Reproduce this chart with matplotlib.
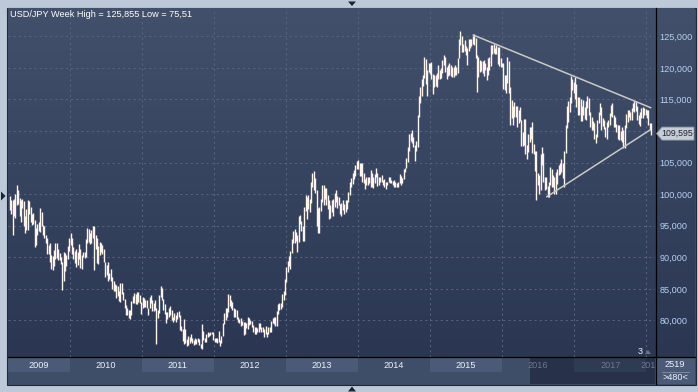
#!/usr/bin/env python3
"""USD/JPY weekly high/low bars, Mar 2009 - Jan 2018, dark terminal style."""

import numpy as np
import pandas as pd
import matplotlib
matplotlib.use('Agg')
import matplotlib.pyplot as plt
import matplotlib.transforms as mtransforms
from matplotlib.patches import Rectangle, Polygon

# --- weekly data (week starting Mon) ---------------------------------------
FIRST_WEEK = '2009-03-02'

hi_2009 = [99.7, 99.0, 99.0, 99.3, 100.0, 101.4, 100.7, 99.4, 99.0, 99.3, 98.9, 96.5, 97.6, 99.0, 98.9,
           98.0, 96.9, 97.0, 95.9, 94.6, 95.3, 95.6, 97.8, 97.2, 95.1, 95.0, 93.5, 93.1, 92.0, 92.2,
           90.4, 90.2, 91.2, 92.3, 92.3, 91.3, 90.7, 90.0, 89.3, 90.8, 90.7, 90.4, 91.8, 93.0]
lo_2009 = [97.5, 96.9, 93.5, 96.5, 96.3, 98.3, 98.5, 96.6, 95.6, 97.8, 94.9, 93.9, 94.4, 94.4, 96.8,
           95.6, 95.1, 95.2, 91.7, 92.0, 93.5, 94.2, 94.0, 94.9, 93.5, 93.0, 92.2, 90.6, 90.5, 89.2,
           88.2, 88.0, 88.6, 89.8, 89.9, 89.6, 89.6, 88.9, 84.8, 86.2, 87.9, 88.6, 89.7, 91.0]

hi_2010 = [93.8, 93.1, 91.7, 91.0, 91.3, 90.8, 92.1, 91.3, 90.4, 90.8, 90.9, 92.9, 94.7, 94.5, 93.8,
           94.3, 94.9, 94.9, 93.6, 93.1, 91.8, 92.4, 92.2, 91.9, 91.3, 89.2, 88.8, 89.2, 87.5, 88.1,
           86.9, 86.3, 85.8, 85.6, 85.4, 84.6, 85.9, 86.0, 84.5, 83.4, 82.4, 81.9, 81.7, 81.6, 83.1,
           83.9, 84.4, 84.2, 84.5, 84.5, 84.1, 83.0]
lo_2010 = [91.9, 90.5, 89.7, 89.1, 88.5, 88.8, 89.7, 88.3, 88.1, 90.0, 89.9, 90.0, 92.3, 92.5, 92.1,
           92.2, 93.1, 88.0, 91.3, 89.1, 88.9, 90.4, 90.9, 90.6, 89.2, 86.9, 87.2, 86.3, 86.5, 86.3,
           85.0, 84.7, 84.7, 83.6, 83.9, 83.1, 82.9, 84.2, 83.2, 81.9, 80.9, 80.9, 80.4, 80.2, 80.9,
           82.7, 82.8, 82.6, 82.6, 83.0, 82.8, 81.1]

hi_2011 = [83.7, 83.6, 83.2, 83.2, 82.0, 83.7, 84.0, 83.2, 82.8, 83.3, 82.0, 81.6, 84.0, 85.5, 85.1,
           83.4, 82.6, 81.3, 81.3, 82.0, 82.3, 81.6, 80.6, 81.2, 80.9, 81.4, 81.5, 80.9, 79.2, 78.6,
           80.2, 78.6, 77.0, 77.5, 77.4, 77.8, 77.2, 76.9, 77.3, 77.1, 77.2, 77.1, 76.3, 79.5, 78.3,
           77.2, 77.9, 78.2, 78.0, 78.2, 78.2, 78.1]
lo_2011 = [82.0, 82.1, 82.1, 81.9, 80.9, 81.9, 82.8, 81.5, 81.5, 81.6, 76.3, 80.4, 81.2, 83.7, 83.2,
           81.6, 81.0, 79.6, 80.3, 80.5, 80.8, 80.0, 79.7, 80.0, 79.7, 80.2, 80.5, 78.5, 78.3, 76.7,
           76.2, 76.5, 75.9, 76.1, 76.5, 76.8, 76.5, 76.1, 76.3, 76.3, 76.6, 76.1, 75.7, 75.51, 76.9,
           76.6, 76.6, 77.4, 77.6, 77.7, 77.8, 76.9]

hi_2012 = [77.2, 77.2, 77.3, 78.3, 76.9, 77.6, 79.6, 81.2, 81.9, 82.0, 84.2, 84.0, 83.3, 83.0, 82.0,
           81.8, 81.7, 80.5, 80.2, 80.4, 79.9, 79.7, 79.7, 79.6, 80.6, 80.4, 80.1, 79.9, 79.3, 78.9,
           78.9, 78.8, 79.6, 79.6, 78.9, 78.9, 78.6, 79.2, 78.1, 78.9, 78.9, 79.9, 80.4, 80.6, 80.5,
           81.5, 82.6, 82.8, 82.8, 84.2, 84.6, 86.6, 88.4]
lo_2012 = [76.6, 76.6, 76.5, 76.6, 76.0, 76.5, 77.5, 79.5, 80.0, 80.6, 81.4, 82.3, 81.9, 81.6, 80.6,
           80.6, 80.2, 79.8, 79.6, 79.2, 79.3, 77.7, 77.9, 78.8, 78.6, 79.3, 79.5, 78.9, 78.2, 77.9,
           77.9, 78.1, 78.2, 78.6, 78.2, 78.1, 77.4, 77.8, 77.4, 77.9, 78.1, 78.2, 79.6, 79.4, 79.1,
           79.1, 81.0, 81.7, 81.8, 82.2, 83.2, 84.0, 86.1]

hi_2013 = [89.4, 90.2, 91.0, 92.9, 94.1, 94.5, 94.0, 93.5, 96.6, 96.7, 95.7, 94.9, 97.9, 99.9, 99.5,
           99.9, 99.2, 101.9, 103.3, 103.7, 102.5, 100.7, 97.8, 98.0, 99.2, 101.5, 101.5, 101.0, 100.9,
           99.9, 99.1, 98.3, 99.1, 99.2, 100.2, 100.6, 99.7, 99.6, 98.5, 98.6, 99.0, 98.4, 99.0, 99.1,
           100.4, 101.9, 102.6, 103.4, 103.9, 104.6, 105.2, 105.4]
lo_2013 = [87.6, 88.6, 88.1, 90.7, 92.3, 92.2, 92.6, 90.9, 92.5, 95.2, 94.2, 92.6, 92.6, 97.3, 96.0,
           97.7, 97.2, 98.6, 101.2, 100.7, 100.2, 94.9, 93.8, 93.9, 97.3, 98.8, 98.3, 99.2, 98.3, 97.6,
           96.1, 96.2, 97.2, 96.6, 97.9, 98.8, 97.8, 98.3, 96.9, 96.6, 97.5, 96.9, 97.2, 97.6, 98.8,
           99.9, 101.2, 101.6, 102.4, 102.9, 104.0, 104.0]

hi_2014 = [105.0, 104.9, 104.9, 103.4, 102.4, 102.8, 102.7, 102.8, 103.8, 103.4, 102.7, 103.2, 104.1,
           103.4, 102.7, 102.8, 103.0, 102.3, 102.4, 101.9, 102.0, 102.8, 102.8, 102.3, 102.1, 102.2,
           102.0, 101.8, 102.0, 103.2, 102.9, 102.6, 104.0, 104.2, 105.7, 107.4, 109.5, 109.7, 110.1,
           109.0, 107.8, 108.4, 112.5, 115.6, 117.0, 118.3, 118.9, 121.8, 121.4, 119.6, 120.8, 120.7]
lo_2014 = [102.9, 102.9, 102.0, 101.8, 100.8, 101.4, 101.5, 101.7, 101.2, 101.2, 101.0, 101.7, 102.8,
           101.3, 101.4, 102.0, 101.9, 101.4, 101.1, 100.8, 101.4, 101.9, 101.8, 101.7, 101.4, 101.2,
           101.1, 101.1, 101.2, 101.8, 101.5, 101.8, 102.4, 103.5, 104.1, 105.1, 106.9, 108.4, 108.1,
           107.5, 105.2, 106.9, 107.5, 112.3, 114.5, 115.5, 117.2, 118.4, 117.5, 115.6, 119.4, 119.1]

hi_2015 = [121.0, 119.0, 118.9, 118.9, 119.2, 120.5, 119.7, 120.0, 121.3, 122.0, 121.7, 120.1, 120.4,
           120.8, 120.4, 120.1, 120.1, 120.5, 120.2, 121.5, 124.5, 125.86, 125.0, 123.8, 124.4, 123.4,
           123.1, 124.5, 124.6, 124.6, 125.1, 125.3, 124.8, 122.1, 121.8, 121.3, 121.1, 121.1, 121.3,
           120.7, 120.2, 121.5, 121.7, 123.6, 123.6, 123.8, 123.2, 123.7, 123.3, 123.3, 121.5, 120.7]
lo_2015 = [118.2, 115.9, 116.9, 117.2, 116.9, 118.3, 118.2, 118.4, 119.2, 120.5, 119.3, 118.3, 118.7,
           118.8, 118.7, 118.5, 118.6, 118.9, 118.9, 119.2, 121.5, 123.7, 122.5, 122.5, 122.7, 122.1,
           120.4, 122.6, 123.2, 123.4, 123.8, 123.7, 121.5, 116.2, 118.6, 119.4, 119.5, 119.2, 118.7,
           119.7, 118.1, 118.9, 119.6, 120.3, 122.2, 122.3, 122.2, 122.2, 120.6, 120.3, 120.1, 120.1]

hi_2016 = [120.7, 118.8, 118.9, 121.7, 121.1, 117.0, 114.9, 114.0, 114.6, 114.0, 114.0, 113.3, 113.8,
           111.8, 109.8, 111.9, 111.9, 107.8, 109.6, 110.6, 110.6, 111.4, 107.9, 106.9, 106.8, 103.3,
           103.0, 106.3, 107.5, 106.5, 102.8, 102.7, 101.3, 102.0, 104.3, 104.0, 103.0, 102.8, 103.5,
           104.0, 104.6, 104.9, 105.5, 105.0, 106.9, 111.0, 113.9, 114.8, 115.4, 118.7, 118.3, 117.8]
lo_2016 = [116.7, 116.5, 116.0, 117.6, 116.0, 111.0, 112.0, 111.0, 112.2, 112.2, 110.7, 111.3, 111.6,
           107.7, 107.6, 107.8, 106.3, 105.5, 106.7, 108.3, 108.7, 106.5, 106.3, 103.6, 99.0, 101.5,
           100.0, 100.7, 104.6, 101.9, 100.7, 100.8, 99.55, 99.6, 101.5, 101.2, 101.2, 100.1, 100.1,
           101.6, 103.0, 103.2, 103.5, 102.5, 101.2, 106.5, 110.5, 111.4, 113.0, 114.4, 116.5, 116.0]

hi_2017 = [118.6, 117.5, 115.4, 115.4, 115.1, 113.9, 114.95, 113.8, 114.7, 115.5, 115.2, 113.0, 112.2,
           111.6, 111.2, 109.5, 111.8, 113.0, 114.4, 113.8, 112.1, 111.7, 110.6, 111.4, 111.8, 112.9,
           114.2, 114.5, 112.6, 112.2, 111.1, 110.9, 110.9, 110.0, 110.7, 110.2, 111.0, 112.7, 113.3,
           113.4, 113.0, 113.6, 114.4, 114.7, 114.7, 113.9, 112.5, 113.0, 113.6, 113.75, 113.6, 113.5]
lo_2017 = [115.1, 113.8, 112.6, 112.5, 111.6, 111.6, 112.6, 111.9, 111.7, 113.6, 112.6, 110.6, 110.1,
           110.1, 108.7, 108.1, 109.1, 111.3, 112.6, 110.2, 110.8, 110.4, 109.1, 108.8, 110.6, 110.9,
           112.4, 112.2, 110.6, 110.6, 109.9, 108.7, 108.6, 108.6, 108.3, 107.3, 107.3, 110.5, 111.5,
           112.2, 111.7, 111.7, 113.2, 113.0, 113.1, 111.8, 111.1, 110.8, 112.0, 112.1, 112.6, 112.5]

hi_2018 = [113.4, 113.4, 111.3, 111.2]
lo_2018 = [112.1, 110.9, 110.2, 109.4]

LAST_PRICE = 109.595
TITLE = 'USD/JPY Week High = 125,855 Low = 75,51'

# triangle trend lines (decimal year, price)
upper_line_x = [2015.60, 2018.06]
upper_line_y = [125.2, 113.7]
lower_line_x = [2016.62, 2018.05]
lower_line_y = [99.6, 110.16]

price_ticks = [80, 85, 90, 95, 100, 105, 110, 115, 120, 125]
# 110,000 sits under the last-price tag, so it is not shown
price_labels = ['80,000', '85,000', '90,000', '95,000', '100,000', '105,000', '',
                '115,000', '120,000', '125,000']
years = [2009, 2010, 2011, 2012, 2013, 2014, 2015, 2016, 2017, 2018]
SELECTION_START = 2016.39   # darker "selected" range in the time strip

# --- colours ----------------------------------------------------------------
FRAME = '#BDC9D9'
BG_TOP = np.array([0x42, 0x50, 0x6B]) / 255
BG_BOT = np.array([0x2B, 0x37, 0x52]) / 255
GRID = '#56647D'
BAR = '#FFF3EE'
TRI = '#C9C9C9'
STRIP = '#3E4D68'
BOX = '#4B5B77'
SEL = '#27324A'
SEL_BOX = '#2F3B53'
TICK_TXT = '#B5D0F0'
YEAR_TXT = '#EEF2FA'
YEAR_DIM = '#6D788C'
FONT = 'Liberation Sans'
FS = 6.6

W, H = 698, 392


def main():
    highs = np.array(hi_2009 + hi_2010 + hi_2011 + hi_2012 + hi_2013 + hi_2014
                     + hi_2015 + hi_2016 + hi_2017 + hi_2018)
    lows = np.array(lo_2009 + lo_2010 + lo_2011 + lo_2012 + lo_2013 + lo_2014
                    + lo_2015 + lo_2016 + lo_2017 + lo_2018)
    weeks = pd.date_range(FIRST_WEEK, periods=len(highs), freq='7D') + pd.Timedelta(days=3)
    xs = weeks.year + (weeks.dayofyear - 1) / 365.25

    plt.rcParams['font.family'] = [FONT, 'DejaVu Sans']

    fig = plt.figure(figsize=(W / 100, H / 100), dpi=100, facecolor=FRAME)

    # background layer in pixel coordinates
    bg = fig.add_axes([0, 0, 1, 1], zorder=0)
    bg.set_xlim(0, W)
    bg.set_ylim(H, 0)
    bg.axis('off')

    bg.add_patch(Rectangle((7, 7.5), 688.5, 377, facecolor=STRIP, edgecolor='#222A3A', lw=0.8))
    grad = np.linspace(0, 1, 256)[:, None, None]
    img = BG_TOP * (1 - grad) + BG_BOT * grad
    bg.imshow(img, extent=(8, 695, 357, 8), aspect='auto', interpolation='bilinear', zorder=1)

    # main chart axes
    ax = fig.add_axes([8 / W, (H - 357) / H, 647 / W, 349 / H], zorder=2)
    ax.set_facecolor('none')
    ax.set_xlim(2009.147, 2018.12)
    ax.set_ylim(74.22, 129.48)
    for s in ax.spines.values():
        s.set_visible(False)

    ax.set_xticks(years[1:])
    ax.set_yticks(price_ticks)
    ax.set_yticklabels(price_labels)
    ax.yaxis.tick_right()
    ax.tick_params(axis='y', length=0, pad=3, labelsize=FS, labelcolor=TICK_TXT)
    ax.tick_params(axis='x', length=0, labelbottom=False)
    ax.grid(True, color=GRID, linestyle=(0, (2, 3)), linewidth=0.75)

    ax.vlines(xs, lows, highs, color=BAR, linewidth=1.0, zorder=3)
    ax.plot(upper_line_x, upper_line_y, color=TRI, lw=1.1, zorder=4)
    ax.plot(lower_line_x, lower_line_y, color=TRI, lw=1.1, zorder=4)

    # time strip below the chart
    xt = mtransforms.blended_transform_factory(ax.transData, bg.transData)
    x0, x1 = ax.get_xlim()
    bg.add_patch(Rectangle((SELECTION_START, 357), x1 - SELECTION_START, 27,
                           transform=xt, facecolor=SEL, edgecolor='none', zorder=2))
    clip = mtransforms.Bbox([[8, H - 384], [655, H - 357]])
    for i, yr in enumerate(years):
        a, b = max(yr, x0), min(yr + 1, x1)
        in_sel = (a + b) / 2 >= SELECTION_START
        if i % 2 == 0:
            bg.add_patch(Rectangle((a, 358), b - a, 14, transform=xt,
                                   facecolor=SEL_BOX if in_sel else BOX,
                                   edgecolor='none', zorder=2.5))
        t = bg.text((a + b) / 2, 365.5, str(yr), transform=xt, ha='center', va='center',
                    fontsize=FS, color=YEAR_DIM if in_sel else YEAR_TXT, zorder=3)
        t.set_clip_on(True)
        t.set_clip_box(clip)

    # axis frame lines
    bg.plot([655.5, 655.5], [8, 384], color='black', lw=0.9, zorder=4)
    bg.plot([8, 695], [357, 357], color='black', lw=0.9, zorder=4)

    # corner box with bar counts
    bg.add_patch(Rectangle((656, 358), 39, 26, facecolor=BOX, edgecolor='none', zorder=3))
    bg.text(675, 364.5, '2519', ha='center', va='center', fontsize=FS, color=YEAR_TXT, zorder=4)
    bg.plot([662, 689], [371.5, 371.5], color='#8391A8', lw=0.6, zorder=4)
    bg.text(675, 378, '>480<', ha='center', va='center', fontsize=FS, color=YEAR_TXT, zorder=4)

    # title and small markers
    top = fig.add_axes([0, 0, 1, 1], zorder=3)
    top.set_xlim(0, W)
    top.set_ylim(H, 0)
    top.axis('off')
    top.text(10, 14.5, TITLE, ha='left', va='center', fontsize=FS, color='white')
    top.text(640, 351, '3', ha='center', va='center', fontsize=FS, color=YEAR_TXT)
    top.add_patch(Polygon([[645, 354], [651, 354], [648, 350]], closed=True,
                          facecolor='#6C7688', edgecolor='none'))
    top.add_patch(Polygon([[348, 1.5], [356, 1.5], [352, 6]], closed=True,
                          facecolor='#1B2232', edgecolor='none'))
    top.add_patch(Polygon([[348, 391.5], [356, 391.5], [352, 386.5]], closed=True,
                          facecolor='#1B2232', edgecolor='none'))
    top.add_patch(Polygon([[1, 191.5], [1, 200.5], [5.5, 196]], closed=True,
                          facecolor='#1B2232', edgecolor='none'))

    # last-price tag on the price axis
    _, py = ax.transData.transform((x1, LAST_PRICE))
    yc = H - py
    top.add_patch(Polygon([[656.5, yc], [662, yc - 6.5], [694, yc - 6.5],
                           [694, yc + 6.5], [662, yc + 6.5]], closed=True,
                          facecolor='#C6CDD7', edgecolor='#8C96A6', lw=0.6))
    top.text(677, yc, f'{LAST_PRICE:.3f}'.replace('.', ','), ha='center', va='center',
             fontsize=6.3, color='#1C2230')

    fig.savefig('out.png', dpi=100, facecolor=FRAME)
    plt.close(fig)


if __name__ == '__main__':
    main()
